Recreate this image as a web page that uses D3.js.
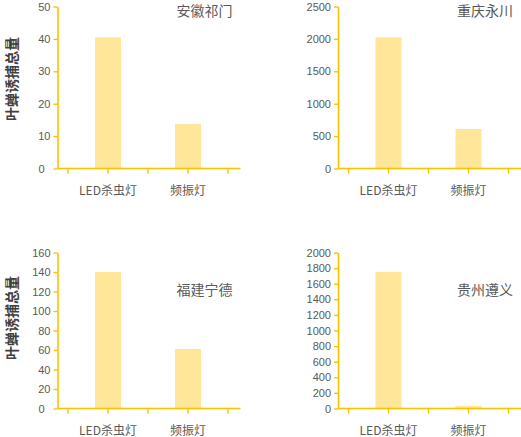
<!DOCTYPE html>
<html>
<head>
<meta charset="utf-8">
<script src="https://cdn.jsdelivr.net/npm/d3@7"></script>
<style>
  html, body { margin: 0; padding: 0; background: #fff; }
  svg { display: block; }
  text { font-family: "Noto Sans CJK SC", "Noto Sans", sans-serif; }
  .num { font-family: "Liberation Sans", "DejaVu Sans", sans-serif; }
</style>
</head>
<body>
<svg id="chart" width="521" height="437"></svg>
<script>
// Lamp types compared at each site
const categories = ["LED杀虫灯", "频振灯"];

// Site names
const sites = ["安徽祁门", "重庆永川", "福建宁德", "贵州遵义"];

// Total leafhopper catch per lamp type, one array per site
const qimenValues   = [40.5, 13.7];
const yongchuanValues = [2025, 610];
const ningdeValues  = [140, 61];
const zunyiValues   = [1752, 35];

// Y-axis tick labels per site
const qimenTicks    = [0, 10, 20, 30, 40, 50];
const yongchuanTicks = [0, 500, 1000, 1500, 2000, 2500];
const ningdeTicks   = [0, 20, 40, 60, 80, 100, 120, 140, 160];
const zunyiTicks    = [0, 200, 400, 600, 800, 1000, 1200, 1400, 1600, 1800, 2000];

const yTitle = "叶蝉诱捕总量";

const BAR = "#FFE699";
const AXIS = "#FFC000";
const TEXT = "#595959";

const svg = d3.select("#chart");

// Layout of the four small panels
const panels = [
  { site: sites[0], values: qimenValues,     ticks: qimenTicks,     x0: 57.5,  top: 6.5,   base: 168.5, titleY: 16,  zeroDx: -6 },
  { site: sites[1], values: yongchuanValues, ticks: yongchuanTicks, x0: 338,   top: 6.5,   base: 168.5, titleY: 16,  zeroDx: 0 },
  { site: sites[2], values: ningdeValues,    ticks: ningdeTicks,    x0: 57.5,  top: 252.5, base: 408.5, titleY: 295, zeroDx: -6 },
  { site: sites[3], values: zunyiValues,     ticks: zunyiTicks,     x0: 338,   top: 252.5, base: 408.5, titleY: 295, zeroDx: 0 }
];

panels.forEach(p => {
  const g = svg.append("g");
  const yMax = p.ticks[p.ticks.length - 1];

  const y = d3.scaleLinear().domain([0, yMax]).range([p.base, p.top]);
  const x = d3.scaleBand().domain(categories).range([p.x0 + 10.5, p.x0 + 170.5]);
  const barW = x.bandwidth() * 0.325;

  // bars
  g.selectAll("rect.bar")
    .data(categories.map((c, i) => ({ c, v: p.values[i] })))
    .join("rect")
    .attr("class", "bar")
    .attr("x", d => x(d.c) + x.bandwidth() / 2 - barW / 2)
    .attr("width", barW)
    .attr("y", d => y(d.v))
    .attr("height", d => y(0) - y(d.v))
    .attr("fill", BAR);

  // y axis
  const yAxis = d3.axisLeft(y)
    .tickValues(p.ticks)
    .tickFormat(d3.format("d"))
    .tickSize(4)
    .tickSizeOuter(0)
    .tickPadding(3);
  const ya = g.append("g").attr("transform", `translate(${p.x0},0)`).call(yAxis);
  ya.select(".domain").attr("stroke", AXIS).attr("stroke-width", 1.6);
  ya.selectAll(".tick line").attr("stroke", AXIS).attr("stroke-width", 1.4);
  ya.selectAll(".tick text")
    .attr("class", "num")
    .attr("fill", TEXT)
    .style("font-size", "11px")
    .attr("dx", d => d === 0 ? p.zeroDx : 0);

  // x axis line
  g.append("line")
    .attr("x1", p.x0).attr("x2", p.x0 + 183)
    .attr("y1", p.base).attr("y2", p.base)
    .attr("stroke", AXIS).attr("stroke-width", 1.6);

  // x tick marks at band edges and centres
  const xTicks = [];
  categories.forEach(c => {
    xTicks.push(x(c));
    xTicks.push(x(c) + x.bandwidth() / 2);
  });
  xTicks.push(x.range()[1]);
  g.selectAll("line.xtick")
    .data(xTicks)
    .join("line")
    .attr("class", "xtick")
    .attr("x1", d => d).attr("x2", d => d)
    .attr("y1", p.base).attr("y2", p.base + 5)
    .attr("stroke", AXIS).attr("stroke-width", 1.4);

  // category labels
  g.selectAll("text.xlabel")
    .data(categories)
    .join("text")
    .attr("class", "xlabel")
    .attr("x", d => x(d) + x.bandwidth() / 2)
    .attr("y", p.base + 26.5)
    .attr("text-anchor", "middle")
    .attr("fill", TEXT)
    .style("font-size", "12px")
    .text(d => d);

  // site title
  g.append("text")
    .attr("x", p.x0 + 175)
    .attr("y", p.titleY)
    .attr("text-anchor", "end")
    .attr("fill", TEXT)
    .style("font-size", "14px")
    .text(p.site);
});

// shared y-axis titles on the left column
[79, 318].forEach(cy => {
  svg.append("text")
    .attr("transform", `translate(16.5,${cy}) rotate(-90)`)
    .attr("text-anchor", "middle")
    .attr("fill", "#404040")
    .style("font-size", "14px")
    .style("font-weight", "bold")
    .text(yTitle);
});
</script>
</body>
</html>
